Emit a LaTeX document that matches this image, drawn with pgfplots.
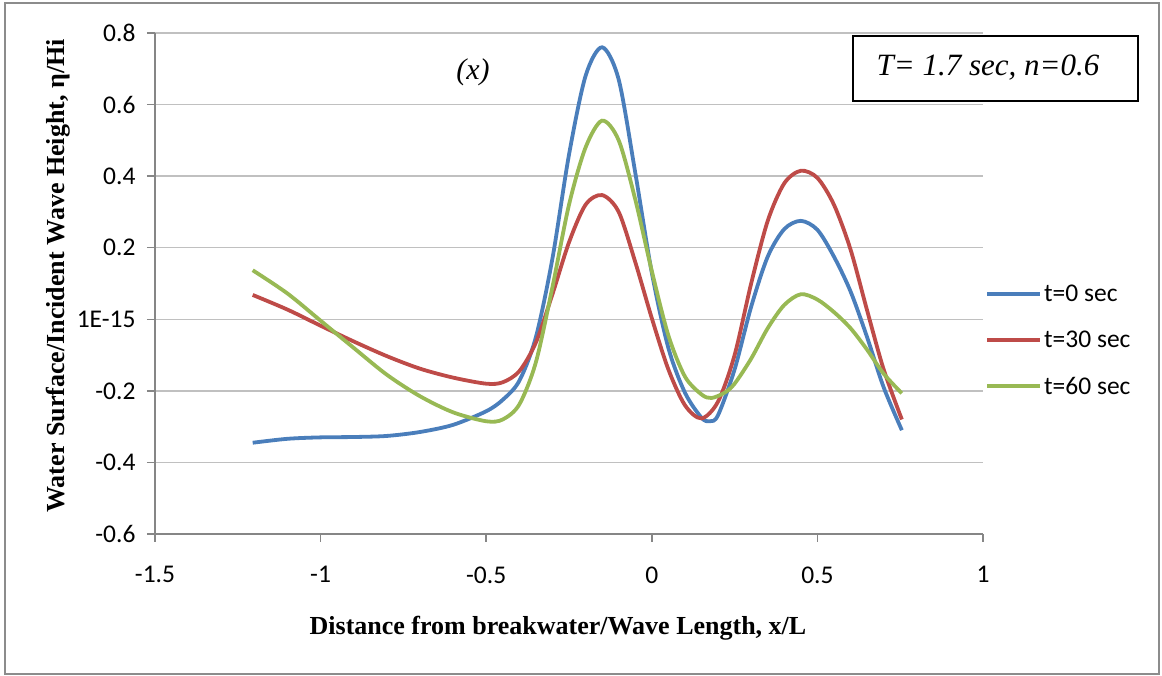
\documentclass[border=0pt]{standalone}
\usepackage{pgfplots}
\pgfplotsset{compat=1.18}
\usepackage{fontspec}
\setmainfont{Liberation Serif}
\newfontfamily\calibri{Carlito}

\definecolor{tblue}{HTML}{4A7EBB}
\definecolor{tred}{HTML}{BE4B48}
\definecolor{tgreen}{HTML}{98B954}
\definecolor{axisgray}{HTML}{868686}
\definecolor{gridgray}{HTML}{C0C0C0}
\definecolor{framegray}{HTML}{8C8C8C}

\begin{document}
\begin{tikzpicture}[x=1pt,y=1pt]
\useasboundingbox (0,0) rectangle (1162,676);
\draw[framegray, line width=1.5pt] (5,2) rectangle (1159,673);
\begin{axis}[
  at={(155pt,142pt)}, anchor=south west,
  scale only axis, width=828pt, height=501pt,
  xmin=-1.5, xmax=1, ymin=-0.6, ymax=0.8,
  axis x line*=bottom, axis y line*=left,
  axis line style={-, draw=axisgray, line width=1.5pt},
  tick align=outside, major tick length=8pt,
  tick style={draw=axisgray, line width=1.5pt},
  xtick={-1.5,-1,-0.5,0,0.5,1},
  xticklabels={-1.5,-1,-0.5,0,0.5,1},
  ytick={-0.6,-0.4,-0.2,0,0.2,0.4,0.6,0.8},
  yticklabels={-0.6,-0.4,-0.2,1E-15,0.2,0.4,0.6,0.8},
  ymajorgrids, grid style={draw=gridgray, line width=1.5pt},
  xticklabel style={font=\calibri\fontsize{25.5}{30}\selectfont, yshift=-21pt},
  yticklabel style={font=\calibri\fontsize{25.5}{30}\selectfont, xshift=-8pt},
  xlabel={\textbf{Distance from breakwater/Wave Length, x/L}},
  ylabel={\textbf{Water Surface/Incident Wave Height, η/Hi}},
  xlabel style={font=\fontsize{26}{30}\selectfont, at={(axis description cs:0.4867,-0.1876)}, anchor=center},
  ylabel style={font=\fontsize{26}{30}\selectfont, at={(axis description cs:-0.117,0.515)}, anchor=center},
  legend style={font=\calibri\fontsize{25.5}{30}\selectfont, draw=none, fill=none,
    at={(axis description cs:1.0024,0.387)}, anchor=west, inner sep=0pt,
    row sep=24pt},
  legend cell align=left,
  legend image code/.code={\draw[#1, line width=4pt] (0pt,0pt) -- (53pt,0pt);},
  every axis plot/.append style={line width=3.8pt, smooth},
]
% t = 0 sec
\addplot[tblue] coordinates {
(-1.205,-0.345) (-1.1,-0.334) (-1.0,-0.330) (-0.9,-0.329) (-0.8,-0.326)
(-0.7,-0.315) (-0.6,-0.295) (-0.5,-0.257) (-0.45,-0.225) (-0.4,-0.172)
(-0.35,-0.05) (-0.3,0.17) (-0.25,0.46) (-0.2,0.68) (-0.15,0.76)
(-0.1,0.67) (-0.05,0.41) (0.0,0.13) (0.05,-0.08) (0.1,-0.205)
(0.15,-0.275) (0.175,-0.285) (0.2,-0.268) (0.25,-0.14) (0.3,0.035)
(0.35,0.175) (0.4,0.252) (0.45,0.275) (0.5,0.25) (0.55,0.175)
(0.6,0.078) (0.65,-0.05) (0.7,-0.19) (0.755,-0.31)
};
\addlegendentry{t=0 sec}
% t = 30 sec
\addplot[tred] coordinates {
(-1.205,0.068) (-1.1,0.027) (-1.0,-0.018) (-0.9,-0.062) (-0.8,-0.103)
(-0.7,-0.138) (-0.6,-0.163) (-0.5,-0.18) (-0.45,-0.176) (-0.4,-0.145)
(-0.35,-0.065) (-0.3,0.07) (-0.25,0.215) (-0.2,0.32) (-0.15,0.347)
(-0.1,0.30) (-0.05,0.16) (0.0,0.003) (0.05,-0.14) (0.1,-0.24)
(0.15,-0.277) (0.2,-0.23) (0.25,-0.1) (0.3,0.1) (0.35,0.275)
(0.4,0.38) (0.45,0.415) (0.5,0.395) (0.55,0.32) (0.6,0.195)
(0.65,0.025) (0.7,-0.14) (0.755,-0.28)
};
\addlegendentry{t=30 sec}
% t = 60 sec
\addplot[tgreen] coordinates {
(-1.205,0.137) (-1.1,0.072) (-1.0,-0.004) (-0.9,-0.08) (-0.8,-0.155)
(-0.7,-0.215) (-0.6,-0.26) (-0.5,-0.285) (-0.45,-0.28) (-0.4,-0.238)
(-0.35,-0.12) (-0.3,0.09) (-0.25,0.32) (-0.2,0.48) (-0.15,0.555)
(-0.1,0.50) (-0.05,0.335) (0.0,0.135) (0.05,-0.045) (0.1,-0.16)
(0.15,-0.21) (0.18,-0.22) (0.22,-0.205) (0.25,-0.18) (0.3,-0.11)
(0.35,-0.025) (0.4,0.04) (0.45,0.07) (0.5,0.055) (0.55,0.02)
(0.6,-0.025) (0.65,-0.085) (0.7,-0.152) (0.755,-0.207)
};
\addlegendentry{t=60 sec}
\end{axis}
\node[font=\itshape\fontsize{30}{34}\selectfont] at (473,604) {(x)};
\draw[black, line width=1.5pt] (853,575) rectangle (1138,640);
\node[font=\itshape\fontsize{31}{36}\selectfont] at (988,608) {T= 1.7 sec, n=0.6};
\end{tikzpicture}
\end{document}
